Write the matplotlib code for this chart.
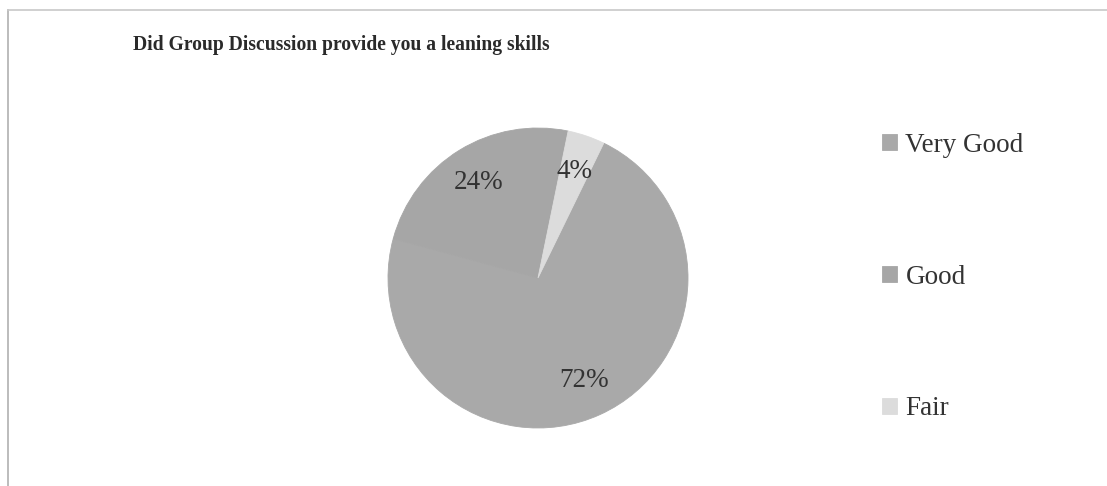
import matplotlib.pyplot as plt
from matplotlib.lines import Line2D

labels = ["Very Good", "Good", "Fair"]
values = [72, 24, 4]
colors = ["#a9a9a9", "#a6a6a6", "#dcdcdc"]
title = "Did Group Discussion provide you a leaning skills"

plt.rcParams["font.family"] = ["Liberation Serif", "DejaVu Serif"]

fig = plt.figure(figsize=(11.07, 4.86), dpi=100)
W, H = 1107, 486

# faint frame (left and top edges only visible)
fig.add_artist(Line2D([8 / W, 8 / W], [0, 1 - 10 / H], color="#b0b0b0", lw=1.2))
fig.add_artist(Line2D([8 / W, 1], [1 - 10 / H, 1 - 10 / H], color="#c8c8c8", lw=1.2))

ax = fig.add_axes([388 / W, 58 / H, 300 / W, 300 / H])
wedges, texts, autotexts = ax.pie(
    values, colors=colors, startangle=64, counterclock=False,
    autopct="%d%%", pctdistance=0.75,
    textprops={"fontsize": 19.5, "color": "#333333"},
)
# hide seams between wedges
for w in wedges:
    w.set_edgecolor(w.get_facecolor())
    w.set_linewidth(0.6)
ax.set_aspect("equal")
ax.set_xlim(-1, 1)
ax.set_ylim(-1, 1)

fig.text(133 / W, 1 - 45 / H, title, fontsize=14.1, fontweight="bold",
         color="#2a2a2a", va="center", ha="left")

leg = fig.legend(wedges, labels, loc="center left",
                 bbox_to_anchor=(858 / W, 1 - 277 / H), frameon=False,
                 fontsize=19.5, labelspacing=3.95, handlelength=0.55,
                 handleheight=0.55, handletextpad=0.3)
for t in leg.get_texts():
    t.set_color("#333333")

fig.savefig("out.png", dpi=100)
